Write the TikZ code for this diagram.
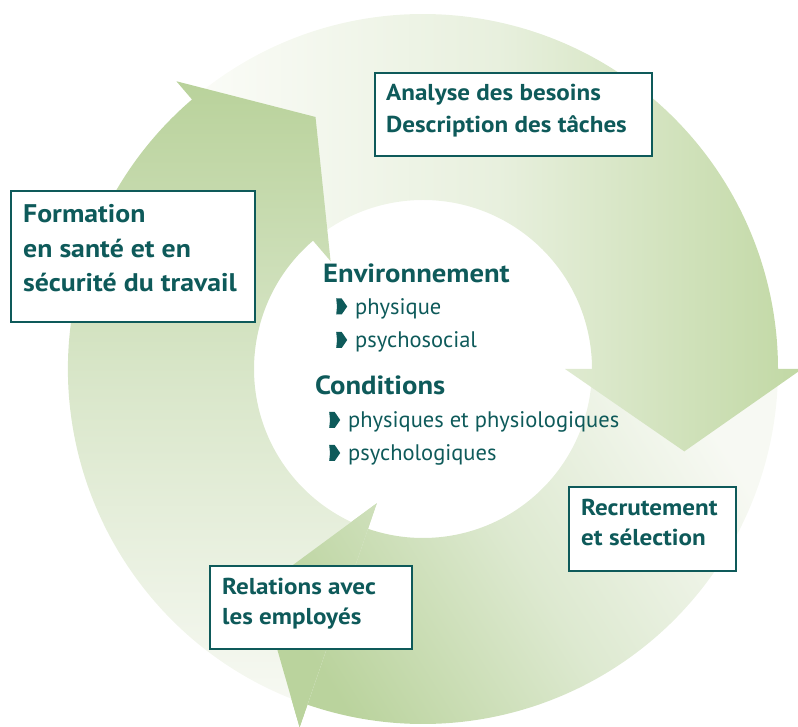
\documentclass[tikz,border=0pt]{standalone}
\usepackage{fontspec}
\setmainfont{PT Sans}
\newfontfamily\boxfont[FakeStretch=1.09]{PT Sans}
\usepackage{tikz}
\usetikzlibrary{positioning, calc}

\definecolor{ink}{HTML}{0E5A5A}
\definecolor{g1a}{HTML}{B9D29B}
\definecolor{g1m}{HTML}{DAE7CB}
\definecolor{g1b}{HTML}{F7F9F3}
\definecolor{g2a}{HTML}{FBFCF8}
\definecolor{g2m}{HTML}{E8F0DE}
\definecolor{g2b}{HTML}{C1D8A4}
\definecolor{g3a}{HTML}{F7F9F3}
\definecolor{g3m}{HTML}{DDE9D0}
\definecolor{g3b}{HTML}{BAD39D}

% small bullet in front of the list items
\newcommand{\puce}{\tikz[baseline=0pt, x=1pt, y=1pt]\fill[ink] (0,0) -- (5.5,0) -- (11,8) -- (5.5,16) -- (0,16) -- (0.8,8) -- cycle;}

\begin{document}
\begin{tikzpicture}[x=1pt, y=1pt,
    box/.style={draw=ink, line width=1.8pt, fill=white, anchor=north west, inner sep=0pt},
    boxtxt/.style={anchor=base west, inner sep=0pt, text=ink, font=\boxfont\bfseries\fontsize{23}{28}\selectfont},
    bigtxt/.style={boxtxt, font=\boxfont\bfseries\fontsize{25.5}{30}\selectfont},
    headtxt/.style={boxtxt, font=\boxfont\bfseries\fontsize{26.3}{30}\selectfont},
    item/.style={anchor=base west, inner sep=0pt, text=ink, font=\fontsize{22.5}{26}\selectfont},
    arrowshape/.style 2 args={insert path={(#1:355) arc[start angle=#1, end angle=#2, radius=355]
        -- (#2:379) -- ({#2-17.5}:274) -- (#2:142) -- (#2:169)
        arc[start angle=#2, end angle=#1, radius=169] -- cycle}},
    fleche1/.style={top color=g1a, bottom color=g1b, middle color=g1m},
    fleche2/.style={left color=g2a, right color=g2b, middle color=g2m},
    fleche3/.style={top color=g3a, bottom color=g3b, middle color=g3m, shading angle=-58}]

    \useasboundingbox (0,0) rectangle (798,726);

    % the three arrows of the cycle
    \begin{scope}[shift={(423,357)}]
        \shade[fleche3, arrowshape={0}{-109}];
        \shade[fleche2, arrowshape={130.6}{0}];
        \shade[fleche1, arrowshape={251}{130.6}];
        \begin{scope}
            \clip (-109:379) -- (-126.5:274) -- (-109:142) -- cycle;
            \shade[fleche3, arrowshape={0}{-109}];
        \end{scope}
    \end{scope}

    % boxes
    \node (formation) [box, minimum width=244pt, minimum height=131pt] at (10,536) {};
    \node (analyse) [box, minimum width=277pt, minimum height=83pt] at (374,654) {};
    \node (recrutement) [box, minimum width=167pt, minimum height=84pt] at (568,240) {};
    \node (relations) [box, minimum width=202pt, minimum height=83pt] at (209,161) {};

    \node (formation1) [bigtxt] at ($(formation.north west)+(13,-33)$) {Formation};
    \node (formation2) [bigtxt] at ($(formation1.base west)+(0,-35)$) {en santé et en};
    \node (formation3) [bigtxt] at ($(formation2.base west)+(0,-34)$) {sécurité du travail};

    \node (analyse1) [boxtxt] at ($(analyse.north west)+(12,-29)$) {Analyse des besoins};
    \node (analyse2) [boxtxt] at ($(analyse1.base west)+(0,-32)$) {Description des tâches};

    \node (recrutement1) [boxtxt] at ($(recrutement.north west)+(13,-30)$) {Recrutement};
    \node (recrutement2) [boxtxt] at ($(recrutement1.base west)+(0,-30)$) {et sélection};

    \node (relations1) [boxtxt] at ($(relations.north west)+(13,-30)$) {Relations avec};
    \node (relations2) [boxtxt] at ($(relations1.base west)+(0,-30)$) {les employés};

    % centre
    \node (env) [headtxt] at (323,443) {Environnement};
    \node (envA) [item] at (336,411.5) {\puce\hspace{8pt}physique};
    \node (envB) [item] at (336,378) {\puce\hspace{8pt}psychosocial};
    \node (cond) [headtxt] at (315,331) {Conditions};
    \node (condA) [item] at (329,298) {\puce\hspace{8pt}physiques et physiologiques};
    \node (condB) [item] at (329,265) {\puce\hspace{8pt}psychologiques};
\end{tikzpicture}
\end{document}
